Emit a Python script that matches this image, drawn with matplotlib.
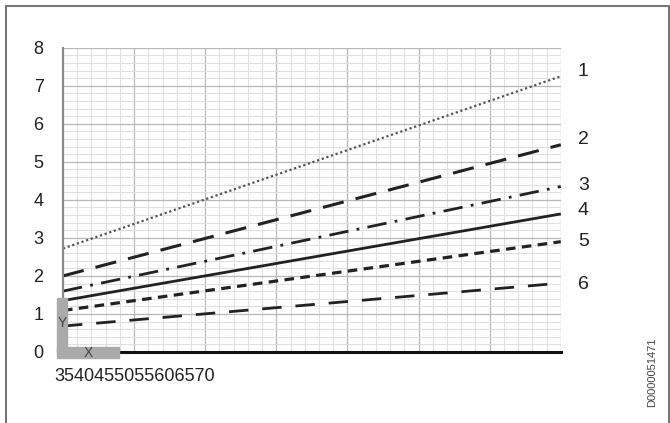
import numpy as np
import matplotlib.pyplot as plt
from matplotlib.patches import FancyBboxPatch, Rectangle

plt.rcParams['font.family'] = ['Liberation Sans', 'DejaVu Sans']

x_range = [35, 70]
x_labels = ["35", "40", "45", "50", "55", "60", "65", "70"]
y_ticks = [0, 1, 2, 3, 4, 5, 6, 7, 8]

curve_names = ["1", "2", "3", "4", "5", "6"]
curve_start = [2.72, 2.0, 1.6, 1.35, 1.09, 0.68]
curve_end = [7.25, 5.45, 4.35, 3.63, 2.9, 1.81]

styles = [
    dict(linestyle=(0, (1, 1.2)), linewidth=1.6, color='#555555'),
    dict(linestyle=(0, (7, 4)), linewidth=2.2, color='#222222'),
    dict(linestyle=(0, (7, 3, 1, 3)), linewidth=2.0, color='#222222'),
    dict(linestyle='-', linewidth=2.0, color='#222222'),
    dict(linestyle=(0, (3, 2)), linewidth=2.3, color='#222222'),
    dict(linestyle=(0, (7, 5)), linewidth=2.0, color='#222222'),
]
label_y = [7.38, 5.58, 4.38, 3.72, 2.9, 1.78]


def main():
    fig = plt.figure(figsize=(6.7, 4.23), dpi=100)
    ax = fig.add_axes([0.094, 0.168, 0.743, 0.719])

    # frame around the figure (bottom edge is cut off)
    fig.add_artist(plt.Line2D([0.009, 0.009, 0.998, 0.998], [0.0, 0.985, 0.985, 0.0],
                              transform=fig.transFigure, color='#777777', linewidth=1.5))

    ax.set_xlim(*x_range)
    ax.set_ylim(0, 8)

    # grid
    ax.set_xticks(np.arange(x_range[0], x_range[1] + 1, 5))
    ax.set_xticks(np.arange(x_range[0], x_range[1] + 1, 1), minor=True)
    ax.set_yticks(y_ticks)
    ax.set_yticks(np.arange(0, 8.01, 0.2), minor=True)
    ax.grid(which='minor', color='#e0e0e0', linewidth=0.8)
    ax.grid(which='major', color='#b8b8b8', linewidth=0.9)
    ax.set_axisbelow(True)
    ax.tick_params(which='both', length=0)
    ax.tick_params(axis='y', labelsize=13, pad=14, labelcolor='#222222')
    ax.set_xticklabels([])

    for side in ['top', 'right']:
        ax.spines[side].set_visible(False)
    ax.spines['left'].set_color('#888888')
    ax.spines['left'].set_linewidth(1.5)
    ax.spines['bottom'].set_color('#111111')
    ax.spines['bottom'].set_linewidth(2.2)

    # curves
    for name, y0, y1, st, ly in zip(curve_names, curve_start, curve_end, styles, label_y):
        ax.plot(x_range, [y0, y1], solid_capstyle='butt', **st)
        ax.text(1.045, ly / 8, name, transform=ax.transAxes, fontsize=14,
                ha='center', va='center', color='#222222')

    # grey axis markers
    ax.add_patch(Rectangle((34.55, 0), 0.75, 1.42, color='#aaaaaa', clip_on=False, zorder=5))
    ax.add_patch(Rectangle((34.55, -0.17), 4.4, 0.3, color='#aaaaaa', clip_on=False, zorder=5))
    ax.text(34.95, 0.75, "Y", fontsize=10, ha='center', va='center', color='#444444', zorder=6)
    ax.text(36.75, -0.02, "X", fontsize=10, ha='center', va='center', color='#444444', zorder=6)

    # squeezed x tick labels
    ax.text(34.4, -0.65, "".join(x_labels), fontsize=13, ha='left', va='center', color='#222222')

    fig.text(0.973, 0.12, "D0000051471", rotation=90, fontsize=8, ha='center', va='center',
             color='#444444')

    fig.savefig("out.png", dpi=100)


if __name__ == "__main__":
    main()
